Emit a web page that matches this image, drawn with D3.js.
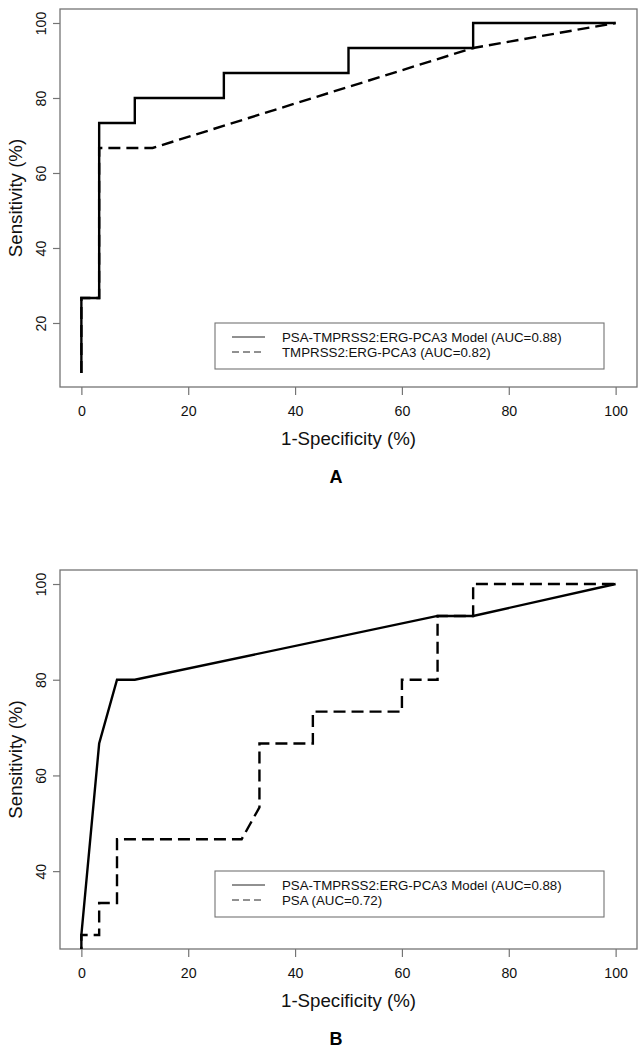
<!DOCTYPE html>
<html>
<head>
<meta charset="utf-8">
<script src="https://cdn.jsdelivr.net/npm/d3@7"></script>
<style>
  html, body { margin: 0; padding: 0; background: #fff; }
  svg { display: block; font-family: "Liberation Sans", Arial, sans-serif; }
</style>
</head>
<body>
<svg id="chart" width="642" height="1050"></svg>
<script>
// ---------- data ----------
const xTicks = [0, 20, 40, 60, 80, 100];
const yTicksA = [20, 40, 60, 80, 100];
const yTicksB = [40, 60, 80, 100];

// Panel A
const modelA_x = [0, 0, 3.33, 3.33, 10, 10, 26.67, 26.67, 50, 50, 73.33, 73.33, 100];
const modelA_y = [6.67, 26.67, 26.67, 73.33, 73.33, 80, 80, 86.67, 86.67, 93.33, 93.33, 100, 100];
const tmprssA_x = [0, 0, 3.33, 3.33, 13.33, 73.33, 100];
const tmprssA_y = [6.67, 26.67, 26.67, 66.67, 66.67, 93.33, 100];

// Panel B
const modelB_x = [0, 0, 3.33, 6.67, 10, 66.67, 73.33, 100];
const modelB_y = [6.67, 26.67, 66.67, 80, 80, 93.33, 93.33, 100];
const psaB_x = [0, 0, 3.33, 3.33, 6.67, 6.67, 30, 33.33, 33.33, 43.33, 43.33, 60, 60, 66.67, 66.67, 73.33, 73.33, 100];
const psaB_y = [6.67, 26.67, 26.67, 33.33, 33.33, 46.67, 46.67, 53.33, 66.67, 66.67, 73.33, 73.33, 80, 80, 93.33, 93.33, 100, 100];

const legendA = ["PSA-TMPRSS2:ERG-PCA3 Model (AUC=0.88)", "TMPRSS2:ERG-PCA3 (AUC=0.82)"];
const legendB = ["PSA-TMPRSS2:ERG-PCA3 Model (AUC=0.88)", "PSA (AUC=0.72)"];
const panelLabels = ["A", "B"];
const xTitle = "1-Specificity (%)";
const yTitle = "Sensitivity (%)";

// ---------- drawing ----------
const svg = d3.select("#chart");
const gray = "#747474";

function panel(opt) {
  const g = svg.append("g");
  const x = d3.scaleLinear().domain([-4, 104]).range([60, 637]);
  const y = d3.scaleLinear().domain(opt.yDomain).range([opt.bottom, opt.top]);

  const clipId = "clip" + opt.id;
  svg.append("clipPath").attr("id", clipId)
    .append("rect").attr("x", 60).attr("y", opt.top).attr("width", 577).attr("height", opt.bottom - opt.top);

  // axes
  const xAxis = d3.axisBottom(x).tickValues(xTicks).tickSize(8).tickPadding(11).tickFormat(d3.format("d"));
  const xg = g.append("g").attr("transform", `translate(0,${opt.bottom})`).call(xAxis);
  xg.select(".domain").remove();
  xg.selectAll(".tick line").attr("stroke", gray).attr("stroke-width", 1.2);
  xg.selectAll(".tick text").attr("font-size", 14.2).attr("fill", "#111")
    .attr("font-family", "Liberation Sans, Arial, sans-serif");

  const yAxis = d3.axisLeft(y).tickValues(opt.yTicks).tickSize(7).tickFormat(d3.format("d"));
  const yg = g.append("g").attr("transform", `translate(60,0)`).call(yAxis);
  yg.select(".domain").remove();
  yg.selectAll(".tick line").attr("stroke", gray).attr("stroke-width", 1.2);
  yg.selectAll(".tick text").remove();
  yg.selectAll(".tick").append("text")
    .attr("transform", "translate(-19,0) rotate(-90)")
    .attr("text-anchor", "middle").attr("dy", "0.35em")
    .attr("font-size", 14.2).attr("fill", "#111")
    .attr("font-family", "Liberation Sans, Arial, sans-serif")
    .text(d => d);

  // box
  g.append("rect").attr("x", 60).attr("y", opt.top).attr("width", 577).attr("height", opt.bottom - opt.top)
    .attr("fill", "none").attr("stroke", gray).attr("stroke-width", 1.3);

  // lines
  const line = d3.line().x(d => x(d[0])).y(d => y(d[1]));
  const lg = g.append("g").attr("clip-path", `url(#${clipId})`);
  lg.append("path").datum(d3.zip(opt.dashX, opt.dashY)).attr("d", line)
    .attr("fill", "none").attr("stroke", "#000").attr("stroke-width", 2.4)
    .attr("stroke-dasharray", "12,6");
  lg.append("path").datum(d3.zip(opt.solidX, opt.solidY)).attr("d", line)
    .attr("fill", "none").attr("stroke", "#000").attr("stroke-width", 2.4);

  // axis titles
  g.append("text").attr("x", 348.5).attr("y", opt.bottom + 51).attr("dy", "0.35em").attr("text-anchor", "middle")
    .attr("font-size", 18.7).attr("fill", "#111").text(xTitle);
  g.append("text").attr("transform", `translate(15,${(opt.top + opt.bottom) / 2}) rotate(-90)`)
    .attr("text-anchor", "middle").attr("dy", "0.35em")
    .attr("font-size", 18.7).attr("fill", "#111").text(yTitle);

  // panel label
  g.append("text").attr("x", 336).attr("y", opt.bottom + 90).attr("dy", "0.35em").attr("text-anchor", "middle")
    .attr("font-size", 18).attr("font-weight", "bold").attr("fill", "#000").text(opt.label);

  // legend
  const lt = opt.legendTop;
  g.append("rect").attr("x", 215).attr("y", lt).attr("width", 389).attr("height", 46)
    .attr("fill", "#fff").attr("stroke", gray).attr("stroke-width", 1.1);
  const rows = [14, 29];
  opt.legend.forEach((t, i) => {
    g.append("line").attr("x1", 232).attr("x2", 265).attr("y1", lt + rows[i]).attr("y2", lt + rows[i])
      .attr("stroke", "#222").attr("stroke-width", 1)
      .attr("stroke-dasharray", i === 1 ? "7,4" : null);
    g.append("text").attr("x", 282).attr("y", lt + rows[i]).attr("dy", "0.35em")
      .attr("font-size", 13.3).attr("fill", "#111").text(t);
  });
}

panel({
  id: "A", top: 9, bottom: 387, yDomain: [2.93, 103.73], yTicks: yTicksA,
  solidX: modelA_x, solidY: modelA_y, dashX: tmprssA_x, dashY: tmprssA_y,
  legend: legendA, legendTop: 323, label: panelLabels[0]
});
panel({
  id: "B", top: 570, bottom: 949, yDomain: [23.73, 102.93], yTicks: yTicksB,
  solidX: modelB_x, solidY: modelB_y, dashX: psaB_x, dashY: psaB_y,
  legend: legendB, legendTop: 871, label: panelLabels[1]
});
</script>
</body>
</html>
